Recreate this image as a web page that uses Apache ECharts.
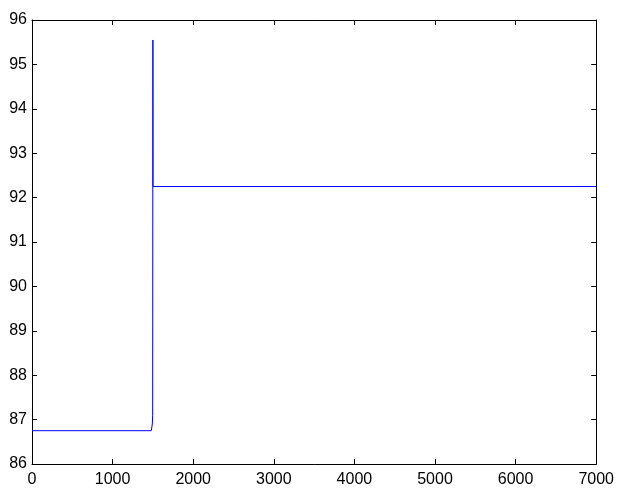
<!DOCTYPE html>
<html>
<head>
<meta charset="utf-8">
<script src="https://cdn.jsdelivr.net/npm/echarts@6/dist/echarts.min.js"></script>
<style>
html,body{margin:0;padding:0;background:#fff;}
#chart{width:617px;height:488px;}
</style>
</head>
<body>
<div id="chart"></div>
<script>
// Data
var xValues = [0, 1480, 1488, 1493, 1497, 1500, 1502, 7000];
var yValues = [86.75, 86.75, 86.78, 86.9, 87.1, 95.55, 92.25, 92.25];
var xTicks = [0, 1000, 2000, 3000, 4000, 5000, 6000, 7000];
var yTicks = [86, 87, 88, 89, 90, 91, 92, 93, 94, 95, 96];

var seriesData = xValues.map(function (x, i) { return [x, yValues[i]]; });

var font = 'Liberation Sans, Arial, sans-serif';
var axisLine = { show: true, onZero: false, lineStyle: { color: '#000', width: 1 } };
var tickIn = { show: true, inside: true, length: 5, lineStyle: { color: '#000', width: 1 } };
var plain = function (v) { return String(v); };

var chart = echarts.init(document.getElementById('chart'), null, { renderer: 'canvas' });
chart.setOption({
  animation: false,
  backgroundColor: '#fff',
  grid: { left: 32, right: 20, top: 20, bottom: 23, containLabel: false },
  xAxis: [
    {
      type: 'value', min: xTicks[0], max: xTicks[xTicks.length - 1], interval: 1000,
      position: 'bottom', axisLine: axisLine, axisTick: tickIn,
      splitLine: { show: false },
      axisLabel: { color: '#000', fontFamily: font, fontSize: 16, margin: 8, formatter: plain }
    },
    {
      type: 'value', min: xTicks[0], max: xTicks[xTicks.length - 1], interval: 1000,
      position: 'top', axisLine: axisLine, axisTick: tickIn,
      splitLine: { show: false }, axisLabel: { show: false }
    }
  ],
  yAxis: [
    {
      type: 'value', min: yTicks[0], max: yTicks[yTicks.length - 1], interval: 1,
      position: 'left', axisLine: axisLine, axisTick: tickIn,
      splitLine: { show: false },
      axisLabel: { color: '#000', fontFamily: font, fontSize: 16, margin: 5, padding: [2, 0, 0, 0], formatter: plain }
    },
    {
      type: 'value', min: yTicks[0], max: yTicks[yTicks.length - 1], interval: 1,
      position: 'right', axisLine: axisLine, axisTick: tickIn,
      splitLine: { show: false }, axisLabel: { show: false }
    }
  ],
  series: [
    {
      type: 'line', xAxisIndex: 0, yAxisIndex: 0,
      data: seriesData, showSymbol: false, symbol: 'none',
      lineStyle: { color: '#0000ff', width: 1 }
    }
  ]
});
</script>
</body>
</html>
